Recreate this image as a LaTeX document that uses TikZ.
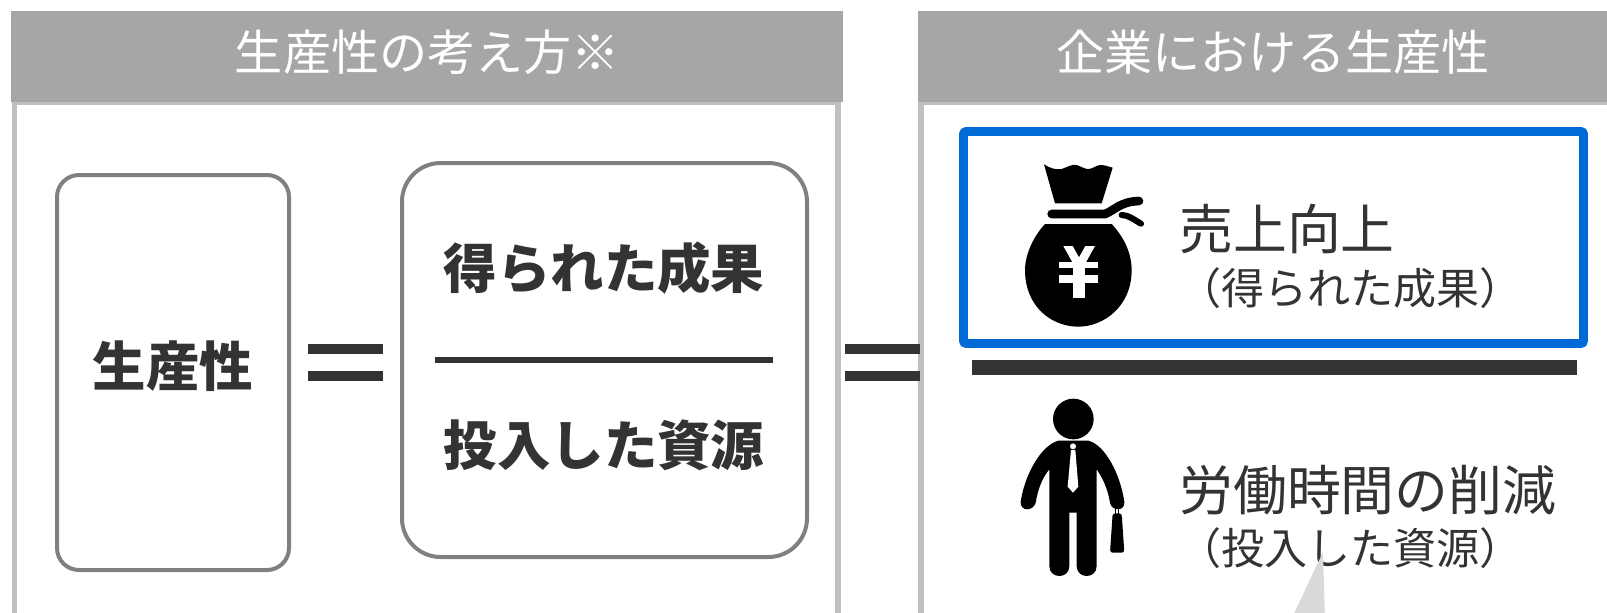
\documentclass[tikz,border=0pt]{standalone}
\usepackage{fontspec}
\setmainfont{Noto Sans CJK JP}
\definecolor{hdr}{HTML}{A6A6A6}
\definecolor{panelline}{HTML}{BFBFBF}
\definecolor{boxline}{HTML}{808080}
\definecolor{ink}{HTML}{333333}
\definecolor{hl}{HTML}{006AD6}
\definecolor{callout}{HTML}{D9D9D9}
\tikzset{
  panel/.style={draw=panelline,line width=3.9pt},
  header/.style={fill=hdr,draw=none},
  title/.style={text=white,inner sep=0pt,font=\fontsize{36.1pt}{36.1pt}\selectfont,text height=31.8pt,text depth=4.3pt},
  bigbold/.style={text=ink,inner sep=0pt,font=\fontsize{40.1pt}{40.1pt}\selectfont\bfseries,text height=35.3pt,text depth=4.8pt},
  bigtext/.style={text=ink,inner sep=0pt,anchor=west,font=\fontsize{40.4pt}{40.4pt}\selectfont,text height=35.6pt,text depth=4.8pt},
  subtext/.style={text=ink,inner sep=0pt,anchor=west,font=\fontsize{32.3pt}{32.3pt}\selectfont,text height=28.4pt,text depth=3.9pt},
  softbox/.style={draw=boxline,line width=3pt,fill=white},
  bar/.style={fill=ink,draw=none}
}
\begin{document}
\begin{tikzpicture}[x=0.75pt,y=-0.75pt]
\useasboundingbox (0,0) rectangle (1607,612);
\begin{scope}
\clip (0,0) rectangle (1607,612);
% panels
\draw[panel] (14.5,630) -- (14.5,102.5) -- (838,102.5) -- (838,630);
\draw[panel] (921,630) -- (921,102.5) -- (1620,102.5);
\fill[header] (11,11) rectangle (843,102);
\fill[header] (918,11) rectangle (1607,102);
\node[title] (t1) at (427.5,52) {生産性の考え方※};
\node[title] (t2) at (1273,52) {企業における生産性};
% equals signs
\fill[bar] (308,344) rectangle (383,354);
\fill[bar] (308,371) rectangle (383,381);
\fill[bar] (845,344) rectangle (920,354);
\fill[bar] (845,371) rectangle (920,381);
% left boxes
\draw[softbox,rounded corners=16.5pt] (57,175) rectangle (289,570);
\draw[softbox,rounded corners=29pt] (402,163) rectangle (807,557);
\node[bigbold] (p) at (173,366) {生産性};
\node[bigbold] (gain) at (604,268) {得られた成果};
\node[bigbold] (input) at (604,445) {投入した資源};
\fill[bar] (435,357) rectangle (773,363);
% highlight box
\draw[hl,line width=6.6pt,rounded corners=2pt] (963.5,131.5) rectangle (1583.5,343.5);
\fill[bar] (972,360) rectangle (1577,375);
% money bag
\begin{scope}[shift={(930,120)},scale=0.33333]
\fill[black] (342,133) .. controls (360,145) and (378,150) .. (395,147) .. controls (410,142) and (425,132) .. (440,135) .. controls (455,140) and (465,148) .. (478,147) .. controls (490,145) and (500,135) .. (512,135) .. controls (525,135) and (535,140) .. (548,143) -- (515,250) -- (375,250) -- cycle;
\draw[black,line width=6.5pt,line cap=round] (365,282) -- (525,282) .. controls (555,270) and (570,245) .. (627,243);
\draw[black,line width=4.6pt,line cap=round] (575,285) .. controls (595,285) and (610,298) .. (633,311);
\fill[black] (345,312) -- (545,312) .. controls (590,360) and (605,410) .. (605,450) .. controls (605,560) and (520,620) .. (445,620) .. controls (365,620) and (285,560) .. (285,450) .. controls (285,410) and (305,355) .. (345,312) -- cycle;
\fill[white] (400,378) -- (428,378) -- (447,412) -- (466,378) -- (495,378) -- (465,432) -- (430,432) -- cycle;
\fill[white] (388,425) rectangle (505,445);
\fill[white] (388,466) rectangle (505,488);
\fill[white] (430,430) rectangle (465,533);
\end{scope}
% person
\begin{scope}[shift={(970,370)},scale=0.33333]
\fill[black] (310,147) circle[radius=61];
\fill[black] (265,212) -- (355,212) .. controls (405,225) and (450,310) .. (463,395) .. controls (466,425) and (425,425) .. (420,398) .. controls (412,350) and (395,320) .. (380,298) -- (380,588) .. controls (380,628) and (320,628) .. (320,588) -- (320,428) -- (298,428) -- (298,588) .. controls (298,628) and (238,628) .. (238,588) -- (238,298) .. controls (220,320) and (205,350) .. (197,398) .. controls (190,425) and (150,425) .. (152,395) .. controls (165,310) and (215,225) .. (265,212) -- cycle;
\fill[white] (309,229) circle[radius=9];
\fill[white] (303,240) -- (316,240) -- (325,350) -- (309,368) -- (293,350) -- cycle;
\fill[black,rounded corners=2pt] (428,430) -- (455,430) -- (463,548) -- (420,548) -- cycle;
\fill[black] (435,414) rectangle (439,432);
\fill[black] (444,414) rectangle (448,432);
\end{scope}
% right texts
\node[bigtext] (sales) at (1179,229) {売上向上};
\node[subtext] (salessub) at (1178,288) {（得られた成果）};
\node[bigtext] (labor) at (1179,490) {労働時間の削減};
\node[subtext] (laborsub) at (1178,548) {（投入した資源）};
% callout tip
\fill[callout] (1323,552) -- (1325,620) -- (1291,620) -- cycle;
\end{scope}
\end{tikzpicture}
\end{document}
